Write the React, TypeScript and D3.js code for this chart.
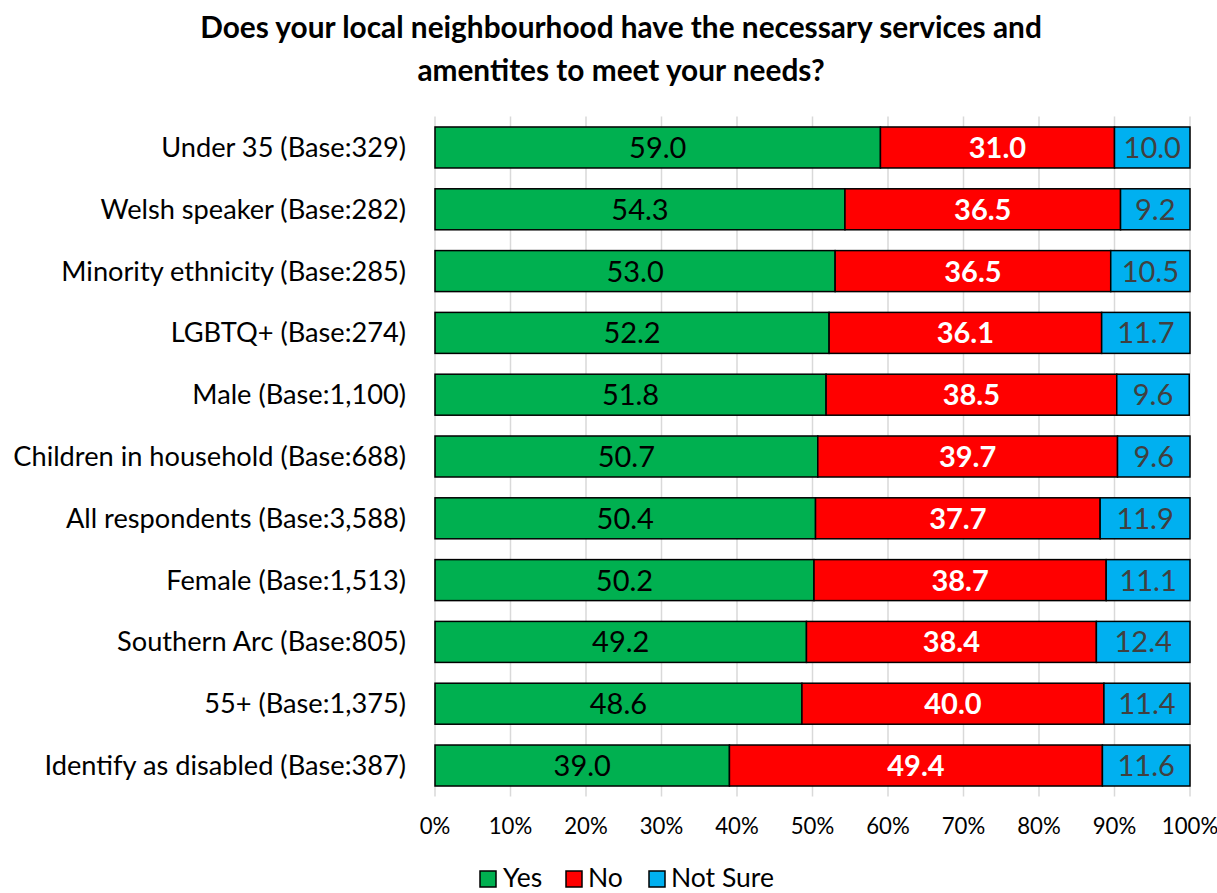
import React from "react";
import * as d3 from "d3";

const categories = [
  "Under 35 (Base:329)",
  "Welsh speaker (Base:282)",
  "Minority ethnicity (Base:285)",
  "LGBTQ+ (Base:274)",
  "Male (Base:1,100)",
  "Children in household (Base:688)",
  "All respondents (Base:3,588)",
  "Female (Base:1,513)",
  "Southern Arc (Base:805)",
  "55+ (Base:1,375)",
  "Identify as disabled (Base:387)",
];
const yesValues = [59.0, 54.3, 53.0, 52.2, 51.8, 50.7, 50.4, 50.2, 49.2, 48.6, 39.0];
const noValues = [31.0, 36.5, 36.5, 36.1, 38.5, 39.7, 37.7, 38.7, 38.4, 40.0, 49.4];
const notSureValues = [10.0, 9.2, 10.5, 11.7, 9.6, 9.6, 11.9, 11.1, 12.4, 11.4, 11.6];
const seriesNames = ["Yes", "No", "Not Sure"];
const tickValues = [0, 10, 20, 30, 40, 50, 60, 70, 80, 90, 100];
const titleLines = [
  "Does your local neighbourhood have the necessary services and",
  "amentites to meet your needs?",
];

const colors = ["#00B050", "#FF0000", "#00B0F0"];
const labelColors = ["#000000", "#FFFFFF", "#404040"];
const labelWeights = [400, 700, 400];
const FONT = "Lato, 'Open Sans', sans-serif";

export default function App() {
  const W = 1217;
  const H = 893;
  const x = d3.scaleLinear().domain([0, 100]).range([435, 1190]);
  const y = d3
    .scaleBand<string>()
    .domain(categories)
    .range([116.6, 796.4])
    .paddingInner(0.3366)
    .paddingOuter(0.168);

  const rows = categories.map((c, i) => ({
    cat: c,
    vals: [yesValues[i], noValues[i], notSureValues[i]],
  }));
  const stack = d3.stack<any>().keys(["0", "1", "2"]).value((d, k) => d.vals[+k]);
  const stacked = stack(rows);

  const legendItems = [
    { name: seriesNames[0], boxX: 480, textX: 503 },
    { name: seriesNames[1], boxX: 566, textX: 588 },
    { name: seriesNames[2], boxX: 649, textX: 671 },
  ];

  return (
    <svg width={W} height={H} style={{ position: "absolute", left: 0, top: 0, background: "#fff" }} fontFamily={FONT}>
      {titleLines.map((t, i) => (
        <text key={i} x={621} y={38 + i * 43} textAnchor="middle" fontSize={29.8} fontWeight={700} fill="#000">
          {t}
        </text>
      ))}
      {tickValues.map((t) => (
        <line key={t} x1={x(t)} x2={x(t)} y1={116.6} y2={796.4} stroke="#D9D9D9" strokeWidth={1.5} />
      ))}
      {stacked.map((s, si) =>
        s.map((d, i) => {
          const x0 = x(d[0]);
          const x1 = x(d[1]);
          const yy = y(categories[i])!;
          const bh = y.bandwidth();
          return (
            <g key={si + "-" + i}>
              <rect x={x0} y={yy} width={x1 - x0} height={bh} fill={colors[si]} stroke="#000" strokeWidth={1.5} />
              <text
                x={(x0 + x1) / 2}
                y={yy + bh / 2 + 10.5}
                textAnchor="middle"
                fontSize={29}
                fontWeight={labelWeights[si]}
                fill={labelColors[si]}
              >
                {(d[1] - d[0]).toFixed(1)}
              </text>
            </g>
          );
        })
      )}
      {categories.map((c) => (
        <text key={c} x={406} y={y(c)! + y.bandwidth() / 2 + 9.5} textAnchor="end" fontSize={27.2} fill="#000">
          {c}
        </text>
      ))}
      {tickValues.map((t) => (
        <text key={"t" + t} x={x(t)} y={834} textAnchor="middle" fontSize={22.2} fill="#000">
          {t + "%"}
        </text>
      ))}
      {legendItems.map((l, i) => (
        <g key={l.name}>
          <rect x={l.boxX} y={871} width={16} height={16} fill={colors[i]} stroke="#000" strokeWidth={1.5} />
          <text x={l.textX} y={887} fontSize={26.5} fill="#000">
            {l.name}
          </text>
        </g>
      ))}
    </svg>
  );
}
